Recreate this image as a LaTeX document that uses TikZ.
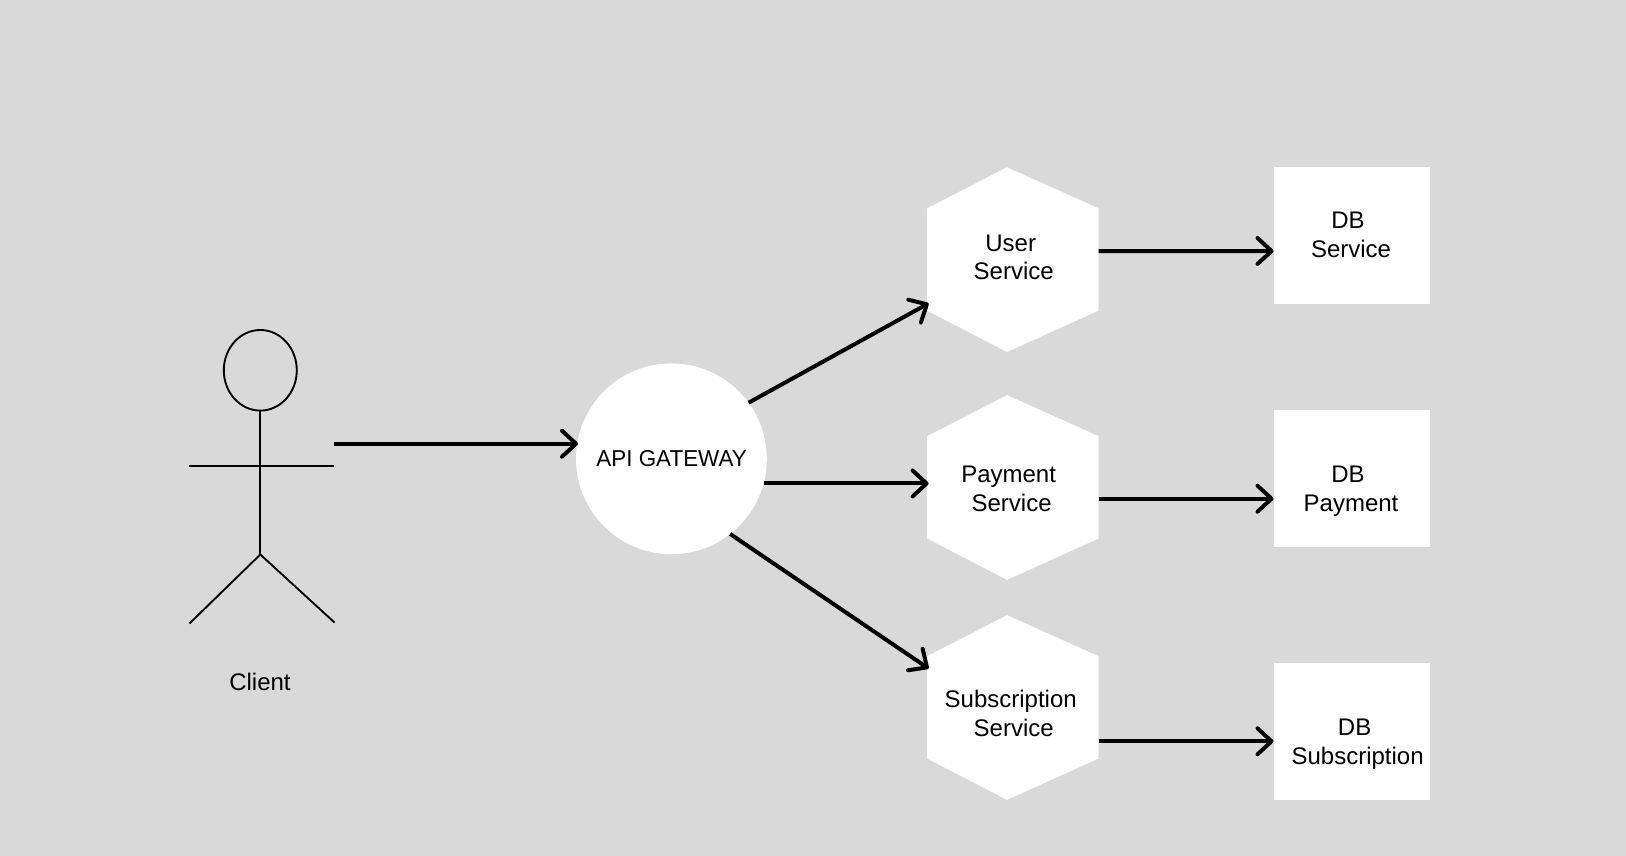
\documentclass[tikz,border=0pt]{standalone}
\usepackage{fontspec}
\setmainfont{Liberation Sans}
\newfontfamily\capsfont[FakeStretch=0.975]{Liberation Sans}
\usetikzlibrary{arrows.meta,calc,shapes.geometric}
\definecolor{canvas}{HTML}{D9D9D9}
\tikzset{
  lbl/.style={inner sep=0pt,outer sep=0pt,align=center,text=black,font=\fontsize{24}{28.5}\selectfont},
  hexbox/.style={rectangle,inner sep=0pt,outer sep=0pt,minimum width=171.5pt,minimum height=184.7pt},
  dbbox/.style={rectangle,fill=white,inner sep=0pt,outer sep=0pt,minimum width=156pt,minimum height=137pt},
  apibox/.style={circle,fill=white,inner sep=0pt,outer sep=0pt,minimum size=190.8pt},
  figline/.style={draw=black,line width=1.9pt},
  flow/.style={draw=black,line width=4pt,-{Straight Barb[length=14pt,width=26pt,round]}}
}
\newcommand{\hexat}[2]{%
  \node[hexbox] (#1) at (#2) {};
  \fill[white,shift={(#1.center)}] (-5.8,-92.35) -- (85.75,-51.3) -- (85.75,51) -- (-5.8,92.35) -- (-85.75,51) -- (-85.75,-51.3) -- cycle;
}
\begin{document}
\begin{tikzpicture}[x=1pt,y=-1pt]
\fill[canvas] (0,0) rectangle (1626,856);
\useasboundingbox (0,0) rectangle (1626,856);
% stick figure
\node[ellipse,figline,fill=none,inner sep=0pt,outer sep=0pt,minimum width=73pt,minimum height=80.6pt] (head) at (260.3,370.3) {};
\coordinate (hip) at (260.3,554.5);
\coordinate (armL) at (189,465.7);
\coordinate (armR) at (334,465.7);
\coordinate (legL) at (189.5,623.5);
\coordinate (legR) at (334.5,622.5);
\draw[figline] (head.south) -- (hip);
\draw[figline] (armL) -- (armR);
\draw[figline] (legL) -- (hip) -- (legR);
\node[lbl] (client) at (260,682) {Client};
% gateway
\node[apibox] (api) at (671.4,458.8) {};
\node[lbl,font=\capsfont\fontsize{23}{28.5}\selectfont] (apitext) at (671.6,459) {API GATEWAY};
% services
\hexat{user}{1012.85,259.65}
\hexat{payment}{1012.85,487.5}
\hexat{subscription}{1012.85,707.5}
\node[lbl] (usertext) at (1010.7,257.6) {User\\\hspace*{6pt}Service};
\node[lbl] (paymenttext) at (1008.6,488.8) {Payment\\\hspace*{6pt}Service};
\node[lbl] (subtext) at (1010.7,713.3) {Subscription\\\hspace*{6pt}Service};
% databases
\node[dbbox] (dbuser) at (1352,235.5) {};
\node[dbbox] (dbpayment) at (1352,478) {};
\node[dbbox] (dbsub) at (1352,731.8) {};
\node[lbl] (dbusertext) at (1348,235) {DB\\\hspace*{6pt}Service};
\node[lbl] (dbpaymenttext) at (1348,491) {DB\\\hspace*{6pt}Payment};
\node[lbl] (dbsubtext) at (1354.6,744) {DB\\\hspace*{6pt}Subscription};
% connectors
\coordinate (clientout) at (334,443.7);
\draw[flow] (clientout) -- ($(clientout -| api.west)+(2,0)$);
\draw[flow] (api.36) -- ($(user.west)+(1.5,43.7)$);
\draw[flow] (api.-15.4) -- ($(api.-15.4 -| payment.west)+(1.5,0)$);
\draw[flow] (api.-52.6) -- ($(subscription.west)+(1.5,-39)$);
\draw[flow] ($(user.east)+(0,-8.6)$) -- ($(dbuser.west)+(-0.5,15.5)$);
\draw[flow] ($(payment.east)+(0,11.2)$) -- ($(dbpayment.west)+(-0.5,20.7)$);
\draw[flow] ($(subscription.east)+(0,33.8)$) -- ($(dbsub.west)+(-0.5,9.5)$);
\end{tikzpicture}
\end{document}
